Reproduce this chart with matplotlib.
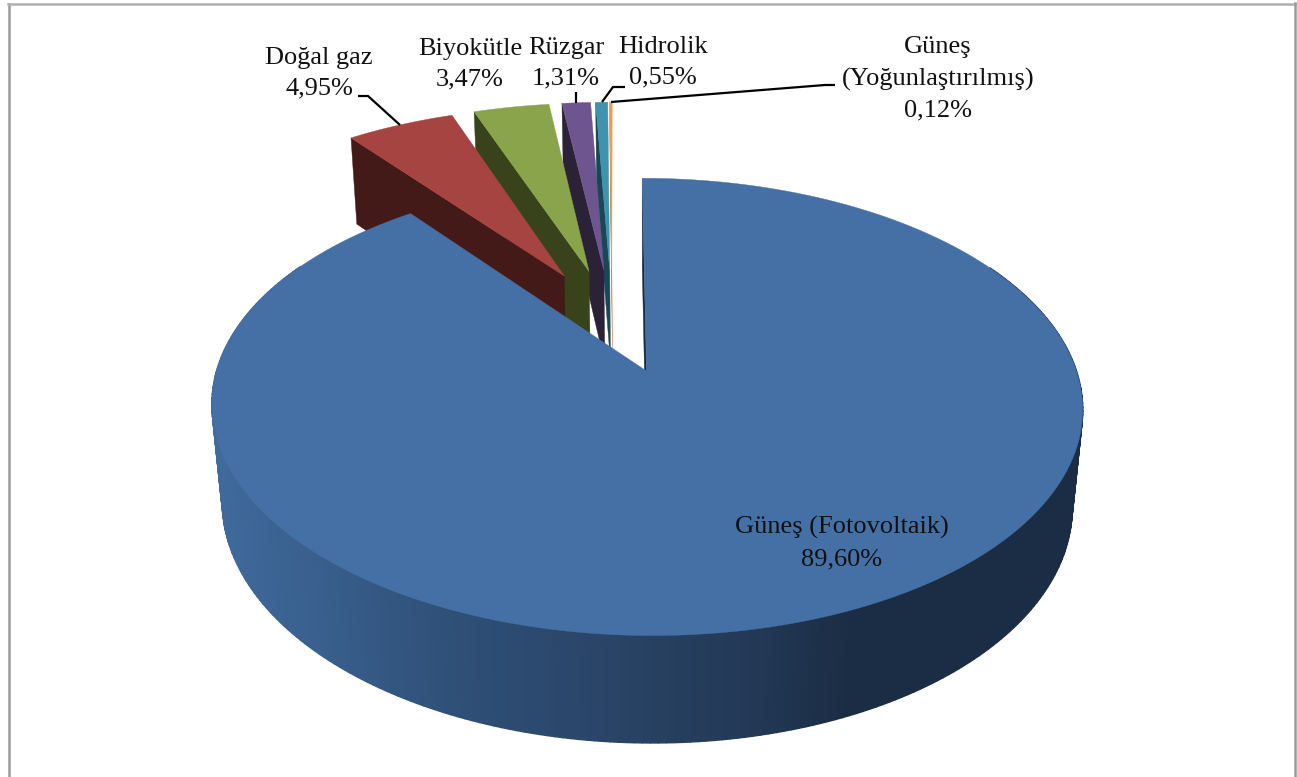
# -*- coding: utf8 -*-
import numpy as np
import matplotlib.pyplot as plt

names = ['Güneş (Fotovoltaik)', 'Doğal gaz', 'Biyokütle', 'Rüzgar', 'Hidrolik', 'Güneş\n(Yoğunlaştırılmış)']
values = [89.60, 4.95, 3.47, 1.31, 0.55, 0.12]
value_labels = ['89,60%', '4,95%', '3,47%', '1,31%', '0,55%', '0,12%']

top_colors = ['#4570A6', '#A64441', '#8AA44C', '#6F5590', '#3E93AE', '#F2994F']
cut_colors = ['#172A42', '#431A18', '#38431C', '#2B2238', '#174855', '#B5743C']

# pixel position of each label, and the leader lines
label_pos = [(842, 543), (319, 73), (470, 64), (566, 63), (663, 62), (938, 79)]
leaders = [
    [(358, 96), (368, 96), (400, 125)],
    [(576, 92), (576, 103)],
    [(625, 87), (613, 87), (602, 102)],
    [(835, 85), (825, 85), (611, 102)],
]

explode = 0.25

# camera: apex of the big slice on screen, perspective of the top face
cx, cy = 646.5, 371
A, B, k, s = 430, 223, 0.157, 5
C, m = 99.5, 0.024


def project(u, v, z=0.0):
    w = 1 + k * v + m * z
    return cx + (A * u - s * v) / w, cy + (-B * v + C * z) / w


angles = np.cumsum([0] + values) / np.sum(values) * 2 * np.pi
mids = (angles[:-1] + angles[1:]) / 2


def slice_origin(i):
    # every slice is pulled out, the big one sits at the camera origin
    return (explode * (np.sin(mids[i]) - np.sin(mids[0])),
            explode * (np.cos(mids[i]) - np.cos(mids[0])))


def arc(i, n=200):
    ou, ov = slice_origin(i)
    t = np.linspace(angles[i], angles[i + 1], n)
    return ou + np.sin(t), ov + np.cos(t), t


def draw_top(ax, i):
    u, v, _ = arc(i)
    ou, ov = slice_origin(i)
    x, y = project(np.r_[ou, u], np.r_[ov, v])
    ax.fill(x, y, color=top_colors[i], lw=0.3, zorder=i_z[i] + 0.2)


def draw_cut(ax, i, ang):
    ou, ov = slice_origin(i)
    uu = np.array([ou, ou + np.sin(ang), ou + np.sin(ang), ou])
    vv = np.array([ov, ov + np.cos(ang), ov + np.cos(ang), ov])
    zz = np.array([0, 0, 1, 1.0])
    x, y = project(uu, vv, zz)
    ax.fill(x, y, color=cut_colors[i], lw=0.3, zorder=i_z[i] + 0.1)


i_z = [10, 6, 5, 4, 3, 2]

fig = plt.figure(figsize=(12.97, 7.77), dpi=100)
ax = fig.add_axes([0, 0, 1, 1])
ax.set_xlim(0, 1297)
ax.set_ylim(777, 0)
ax.axis('off')

# small slices, back ones first
for i in range(1, len(values)):
    draw_cut(ax, i, angles[i])
    draw_top(ax, i)

# outer wall of the big slice, shaded along the screen x
wall_x = [212, 330, 450, 600, 760, 850, 1083]
wall_rgb = np.array([[0x40, 0x6B, 0x9C], [0x38, 0x5E, 0x8C], [0x2F, 0x50, 0x78],
                     [0x2A, 0x45, 0x68], [0x22, 0x38, 0x55], [0x1B, 0x2D, 0x45],
                     [0x1B, 0x2D, 0x45]], dtype=float) / 255
u, v, t = arc(0, 350)
xt, yt = project(u, v)
xb, yb = project(u, v, 1.0)
for j in range(len(t) - 1):
    if np.cos(t[j]) > 0.5:
        continue
    xm = (xt[j] + xb[j]) / 2
    col = [np.interp(xm, wall_x, wall_rgb[:, c]) for c in range(3)]
    ax.fill([xt[j], xt[j + 1], xb[j + 1], xb[j]], [yt[j], yt[j + 1], yb[j + 1], yb[j]],
            color=col, lw=1.0, zorder=9)

draw_cut(ax, 0, 0.0)
draw_top(ax, 0)

for path in leaders:
    xs, ys = zip(*path)
    ax.plot(xs, ys, color='black', lw=1.6, zorder=12, solid_capstyle='butt')

for i in range(len(values)):
    ax.text(label_pos[i][0], label_pos[i][1], names[i] + '\n' + value_labels[i],
            family='Liberation Serif', fontsize=19, color='#111111', ha='center', va='center',
            linespacing=1.52, zorder=13)

# frame of the chart area
ax.plot([8.5, 8.5], [777, 3.5], color='#9a9a9a', lw=1.8, zorder=14)
ax.plot([8, 1295], [3.5, 3.5], color='#b0b0b0', lw=1.8, zorder=14)
ax.plot([1295, 1295], [3, 777], color='#9a9a9a', lw=1.8, zorder=14)

plt.savefig('out.png', dpi=100)
